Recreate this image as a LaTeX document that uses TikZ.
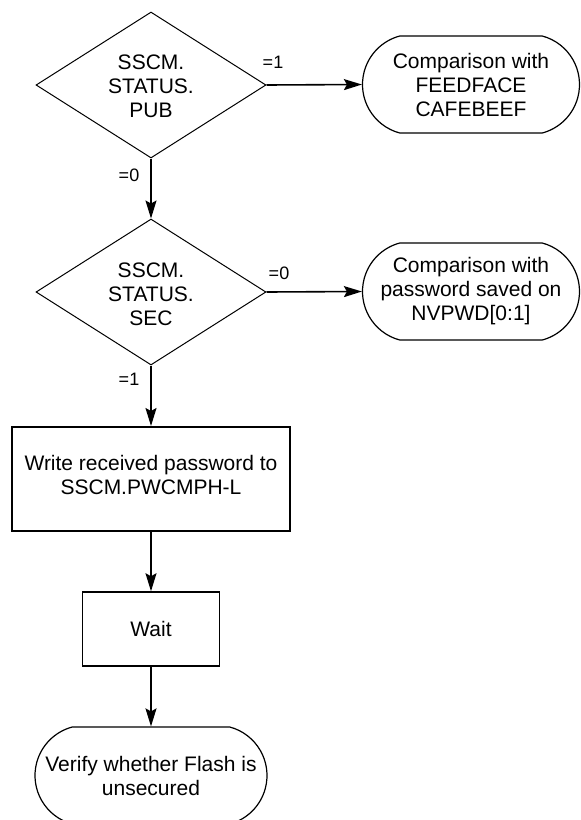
\documentclass[tikz,border=0pt]{standalone}
\usepackage{fontspec}
\setmainfont{Liberation Sans}
\usetikzlibrary{shapes.geometric,shapes.misc,arrows.meta}
\tikzset{
  decision/.style={diamond, draw, line width=1pt, inner sep=0pt, minimum width=230pt, minimum height=146pt},
  terminal/.style={rounded rectangle, rounded rectangle arc length=150, draw, line width=1.2pt, inner sep=0pt, minimum width=217pt, minimum height=97pt},
  process/.style={rectangle, draw, line width=2pt, inner sep=0pt},
  txt/.style={align=center, inner sep=0pt, font=\fontsize{21}{24}\selectfont},
  lbl/.style={inner sep=0pt, font=\fontsize{18}{20}\selectfont},
  flow/.style={line width=1.6pt, -{Stealth[length=18pt,width=11pt,inset=3pt]}}
}
\begin{document}
\begin{tikzpicture}[x=1pt,y=-1pt]
\useasboundingbox (0,0) rectangle (581,820);
% decisions
\node[decision] (d1) at (151,85) {};
\node[txt] (d1t) at (151,86) {SSCM.\\STATUS.\\PUB};
\node[decision] (d2) at (151,292) {};
\node[txt] (d2t) at (151,294) {SSCM.\\STATUS.\\SEC};
% terminals
\node[terminal] (c1) at (471,84.5) {};
\node[txt] (c1t) at (c1) {Comparison with\\FEEDFACE\\CAFEBEEF};
\node[terminal] (c2) at (471,291.5) {};
\node[txt] (c2t) at (c2) {Comparison with\\password saved on\\NVPWD[0:1]};
% processes
\node[process, minimum width=278pt, minimum height=104pt] (w1) at (151,479) {};
\node[txt] (w1t) at (151,475) {Write received password to\\SSCM.PWCMPH-L};
\node[process, line width=1.5pt, minimum width=137pt, minimum height=74pt] (w2) at (151,629) {};
\node[txt] (w2t) at (w2) {Wait};
\node[terminal, minimum width=232pt] (v) at (151,775.5) {};
\node[txt] (vt) at (v) {Verify whether Flash is\\unsecured};
% connectors
\draw[flow] (d1.east) -- (c1.west);
\draw[flow] (d1.south) -- (d2.north);
\draw[flow] (d2.east) -- (c2.west);
\draw[flow] (d2.south) -- (w1.north);
\draw[flow] (w1.south) -- (w2.north);
\draw[flow] (w2.south) -- (v.north);
% labels
\node[lbl] (l1) at (273,62) {=1};
\node[lbl] (l2) at (129,175) {=0};
\node[lbl] (l3) at (279,273) {=0};
\node[lbl] (l4) at (129,379) {=1};
\end{tikzpicture}
\end{document}
